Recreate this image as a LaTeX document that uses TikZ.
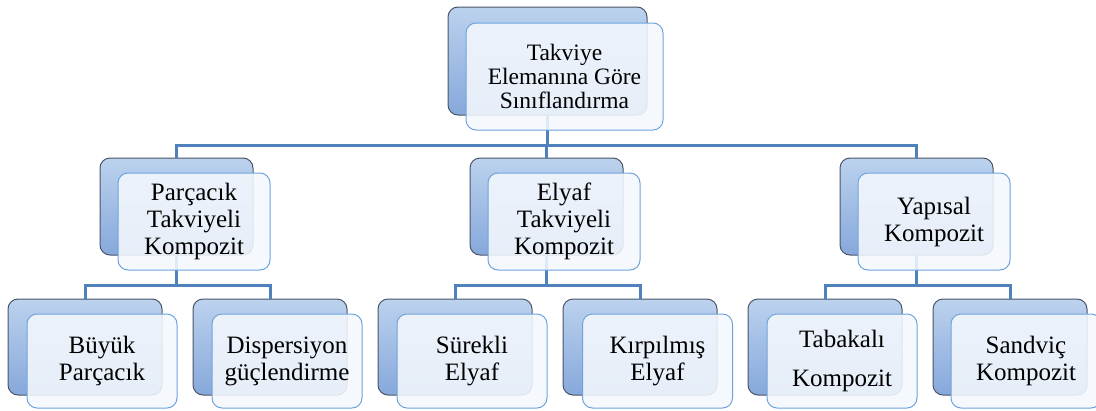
\documentclass[tikz,border=0pt]{standalone}
\usepackage{fontspec}
\setmainfont{Liberation Serif}
\usepackage{tikz}
\usetikzlibrary{calc}
\usepackage{xcolor}
\definecolor{backtop}{HTML}{BCD2EE}
\definecolor{backbot}{HTML}{86A8DB}
\definecolor{backedge}{HTML}{4A5666}
\definecolor{frontedge}{HTML}{6FA3DC}
\definecolor{frontfill}{HTML}{F4F8FD}
\definecolor{busblue}{HTML}{4F81BD}
\tikzset{
  backbox/.style={draw=backedge, line width=1pt, rounded corners=10pt, top color=backtop, bottom color=backbot, inner sep=0pt, outer sep=0pt},
  frontbox/.style={draw=frontedge, line width=1pt, rounded corners=10pt, fill=frontfill, fill opacity=0.88, text opacity=1, align=center, inner sep=0pt, outer sep=0pt},
  conn/.style={draw=busblue, line width=3pt}
}
\begin{document}
\begin{tikzpicture}[x=1pt,y=-1pt]
\useasboundingbox (0,0) rectangle (1096,410);
% back boxes
\node [backbox, minimum width=199pt, minimum height=108pt] (topb) at (547.5,61) {};
\node [backbox, minimum width=153pt, minimum height=97pt] (parcb) at (176.5,206.5) {};
\node [backbox, minimum width=153pt, minimum height=97pt] (elyb) at (546.5,206.5) {};
\node [backbox, minimum width=153pt, minimum height=97pt] (yapb) at (916.5,206.5) {};
\node [backbox, minimum width=154pt, minimum height=96pt] (buyb) at (85,347) {};
\node [backbox, minimum width=154pt, minimum height=96pt] (dispb) at (270,347) {};
\node [backbox, minimum width=154pt, minimum height=96pt] (sureb) at (455,347) {};
\node [backbox, minimum width=154pt, minimum height=96pt] (kirpb) at (640,347) {};
\node [backbox, minimum width=154pt, minimum height=96pt] (tabb) at (825,347) {};
\node [backbox, minimum width=154pt, minimum height=96pt] (sandb) at (1010,347) {};
% connectors
\draw [conn] (topb.south) -- ++(0,30) coordinate (bus1);
\draw [conn] (bus1) -| (parcb.north);
\draw [conn] (bus1) -| (elyb.north);
\draw [conn] (bus1) -| (yapb.north);
\draw [conn] (parcb.south) -- ++(0,30) coordinate (bus2);
\draw [conn] (bus2) -| (buyb.north);
\draw [conn] (bus2) -| (dispb.north);
\draw [conn] (elyb.south) -- ++(0,30) coordinate (bus3);
\draw [conn] (bus3) -| (sureb.north);
\draw [conn] (bus3) -| (kirpb.north);
\draw [conn] (yapb.south) -- ++(0,30) coordinate (bus4);
\draw [conn] (bus4) -| (tabb.north);
\draw [conn] (bus4) -| (sandb.north);
% front boxes
\node [frontbox, minimum width=197pt, minimum height=107pt, font=\fontsize{23.5}{24}\selectfont] (top) at (564.5,76.5) {Takviye\\Elemanına Göre\\Sınıflandırma};
\node [frontbox, minimum width=152pt, minimum height=97pt, font=\fontsize{25}{27}\selectfont] (parc) at (194,221.5) {Parçacık\\Takviyeli\\Kompozit};
\node [frontbox, minimum width=152pt, minimum height=97pt, font=\fontsize{25}{27}\selectfont] (ely) at (564,221.5) {Elyaf\\Takviyeli\\Kompozit};
\node [frontbox, minimum width=152pt, minimum height=97pt, font=\fontsize{25}{27}\selectfont] (yap) at (934,221.5) {Yapısal\\Kompozit};
\node [frontbox, minimum width=150pt, minimum height=94pt, font=\fontsize{25}{27}\selectfont] (buy) at (102,361) {Büyük\\Parçacık};
\node [frontbox, minimum width=150pt, minimum height=94pt, font=\fontsize{25}{27}\selectfont] (disp) at (287,361) {Dispersiyon\\güçlendirme};
\node [frontbox, minimum width=150pt, minimum height=94pt, font=\fontsize{25}{27}\selectfont] (sure) at (472,361) {Sürekli\\Elyaf};
\node [frontbox, minimum width=150pt, minimum height=94pt, font=\fontsize{25}{27}\selectfont] (kirp) at (657.5,361) {Kırpılmış\\Elyaf};
\node [frontbox, minimum width=150pt, minimum height=94pt, font=\fontsize{25}{27}\selectfont] (tab) at (842,361) {Tabakalı\\[12pt]Kompozit};
\node [frontbox, minimum width=150pt, minimum height=94pt, font=\fontsize{25}{27}\selectfont] (sand) at (1026,361) {Sandviç\\Kompozit};
\end{tikzpicture}
\end{document}
